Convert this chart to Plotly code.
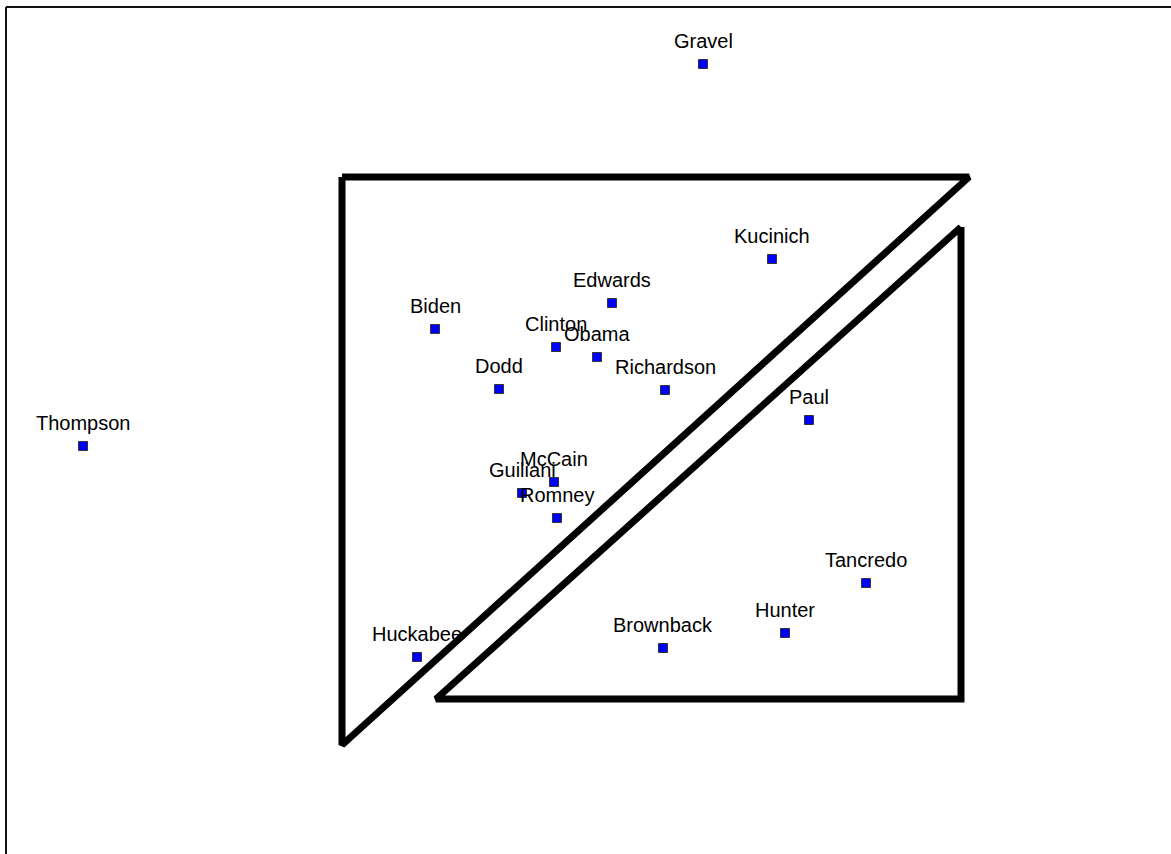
import plotly.graph_objects as go

# Candidate positions (in plot units: x right, y down)
names = ["Gravel", "Kucinich", "Edwards", "Biden", "Clinton", "Obama", "Dodd",
         "Richardson", "Paul", "Thompson", "McCain", "Guiliani", "Romney",
         "Tancredo", "Hunter", "Brownback", "Huckabee"]
xs = [703, 772, 612, 435, 556, 597, 499, 665, 809, 83, 554, 522, 557, 866, 785, 663, 417]
ys = [64, 259, 303, 329, 347, 357, 389, 390, 420, 446, 482, 493, 518, 583, 633, 648, 657]

# Triangle outlines (same units)
tri1_x = [342, 969, 342, 342]
tri1_y = [177, 177, 745, 177]
tri2_x = [961, 961, 436, 961]
tri2_y = [227, 699, 699, 227]

fig = go.Figure()
for tx, ty in [(tri1_x, tri1_y), (tri2_x, tri2_y)]:
    fig.add_trace(go.Scatter(x=tx, y=ty, mode="lines",
                             line=dict(color="black", width=7),
                             hoverinfo="skip", showlegend=False))

fig.add_trace(go.Scatter(
    x=xs, y=ys, mode="markers",
    marker=dict(symbol="square", size=9, color="#0000ff",
                line=dict(color="#333333", width=1)),
    showlegend=False, hoverinfo="text", text=names))

for n, x, y in zip(names, xs, ys):
    fig.add_annotation(x=x, y=y, text=n, showarrow=False,
                       yanchor="bottom", yshift=10,
                       font=dict(family="Arial, Liberation Sans, sans-serif", size=20, color="black"))

fig.add_shape(type="line", xref="paper", yref="paper", x0=0, x1=0, y0=0, y1=1,
              line=dict(color="#111111", width=2))
fig.add_shape(type="line", xref="paper", yref="paper", x0=0, x1=1, y0=1, y1=1,
              line=dict(color="#111111", width=2))

fig.update_layout(
    width=1171, height=854,
    margin=dict(l=6, r=0, t=7, b=0),
    paper_bgcolor="white", plot_bgcolor="white",
    xaxis=dict(range=[6, 1171], visible=False, fixedrange=True),
    yaxis=dict(range=[854, 7], visible=False, fixedrange=True),
)
fig.write_html("out.html", config={"displayModeBar": False},
               post_script="document.body.style.margin='0';document.body.style.overflow='hidden';")
